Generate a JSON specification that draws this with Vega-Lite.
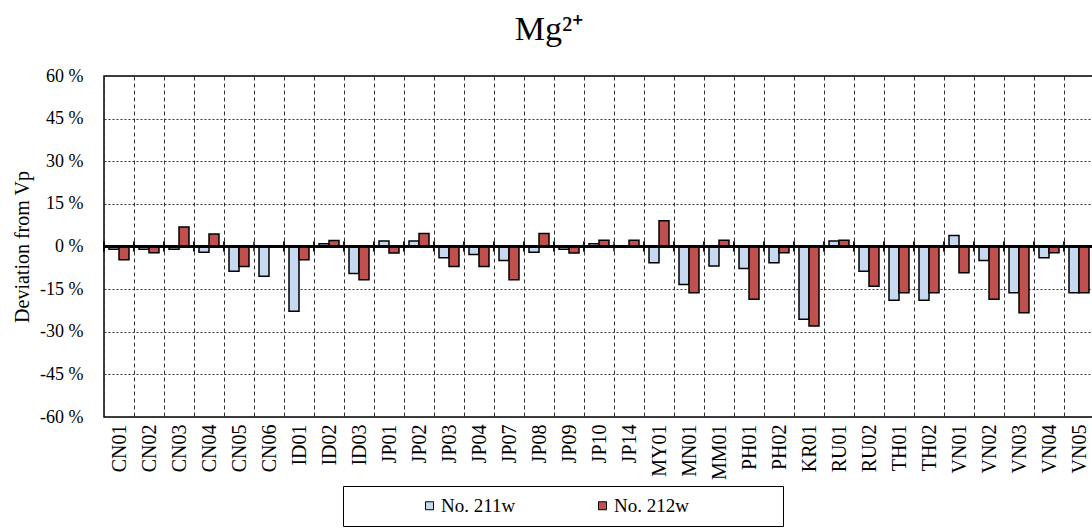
{
  "$schema": "https://vega.github.io/schema/vega-lite/v6.json",
  "autosize": {"type": "none"},
  "padding": {"left": 104, "top": 76, "right": 0, "bottom": 112},
  "width": 990,
  "height": 341,
  "title": {"text": "Mg²⁺", "fontSize": 34, "fontWeight": "normal", "font": "Liberation Serif", "color": "black", "offset": 20, "anchor": "middle", "dx": -50},
  "config": {
    "font": "Liberation Serif",
    "view": {"stroke": "black", "strokeWidth": 1.5},
    "axis": {"labelColor": "black", "titleColor": "black", "labelFont": "Liberation Serif", "titleFont": "Liberation Serif"}
  },
  "data": {"values": [
    {"site": "CN01", "sample": "No. 211w", "value": -1.0}, {"site": "CN01", "sample": "No. 212w", "value": -4.7},
    {"site": "CN02", "sample": "No. 211w", "value": -1.0}, {"site": "CN02", "sample": "No. 212w", "value": -2.2},
    {"site": "CN03", "sample": "No. 211w", "value": -1.0}, {"site": "CN03", "sample": "No. 212w", "value": 6.9},
    {"site": "CN04", "sample": "No. 211w", "value": -2.0}, {"site": "CN04", "sample": "No. 212w", "value": 4.4},
    {"site": "CN05", "sample": "No. 211w", "value": -8.7}, {"site": "CN05", "sample": "No. 212w", "value": -7.0},
    {"site": "CN06", "sample": "No. 211w", "value": -10.5},
    {"site": "ID01", "sample": "No. 211w", "value": -22.8}, {"site": "ID01", "sample": "No. 212w", "value": -4.7},
    {"site": "ID02", "sample": "No. 211w", "value": 1.0}, {"site": "ID02", "sample": "No. 212w", "value": 2.1},
    {"site": "ID03", "sample": "No. 211w", "value": -9.5}, {"site": "ID03", "sample": "No. 212w", "value": -11.7},
    {"site": "JP01", "sample": "No. 211w", "value": 1.9}, {"site": "JP01", "sample": "No. 212w", "value": -2.3},
    {"site": "JP02", "sample": "No. 211w", "value": 1.9}, {"site": "JP02", "sample": "No. 212w", "value": 4.6},
    {"site": "JP03", "sample": "No. 211w", "value": -4.0}, {"site": "JP03", "sample": "No. 212w", "value": -7.0},
    {"site": "JP04", "sample": "No. 211w", "value": -2.8}, {"site": "JP04", "sample": "No. 212w", "value": -7.0},
    {"site": "JP07", "sample": "No. 211w", "value": -4.9}, {"site": "JP07", "sample": "No. 212w", "value": -11.7},
    {"site": "JP08", "sample": "No. 211w", "value": -2.0}, {"site": "JP08", "sample": "No. 212w", "value": 4.6},
    {"site": "JP09", "sample": "No. 211w", "value": -1.0}, {"site": "JP09", "sample": "No. 212w", "value": -2.3},
    {"site": "JP10", "sample": "No. 211w", "value": 1.0}, {"site": "JP10", "sample": "No. 212w", "value": 2.2},
    {"site": "JP14", "sample": "No. 212w", "value": 2.2},
    {"site": "MY01", "sample": "No. 211w", "value": -5.7}, {"site": "MY01", "sample": "No. 212w", "value": 9.1},
    {"site": "MN01", "sample": "No. 211w", "value": -13.4}, {"site": "MN01", "sample": "No. 212w", "value": -16.3},
    {"site": "MM01", "sample": "No. 211w", "value": -6.9}, {"site": "MM01", "sample": "No. 212w", "value": 2.2},
    {"site": "PH01", "sample": "No. 211w", "value": -7.7}, {"site": "PH01", "sample": "No. 212w", "value": -18.6},
    {"site": "PH02", "sample": "No. 211w", "value": -5.7}, {"site": "PH02", "sample": "No. 212w", "value": -2.2},
    {"site": "KR01", "sample": "No. 211w", "value": -25.6}, {"site": "KR01", "sample": "No. 212w", "value": -28.0},
    {"site": "RU01", "sample": "No. 211w", "value": 1.9}, {"site": "RU01", "sample": "No. 212w", "value": 2.2},
    {"site": "RU02", "sample": "No. 211w", "value": -8.7}, {"site": "RU02", "sample": "No. 212w", "value": -14.0},
    {"site": "TH01", "sample": "No. 211w", "value": -18.9}, {"site": "TH01", "sample": "No. 212w", "value": -16.3},
    {"site": "TH02", "sample": "No. 211w", "value": -18.9}, {"site": "TH02", "sample": "No. 212w", "value": -16.3},
    {"site": "VN01", "sample": "No. 211w", "value": 3.9}, {"site": "VN01", "sample": "No. 212w", "value": -9.2},
    {"site": "VN02", "sample": "No. 211w", "value": -4.9}, {"site": "VN02", "sample": "No. 212w", "value": -18.6},
    {"site": "VN03", "sample": "No. 211w", "value": -16.3}, {"site": "VN03", "sample": "No. 212w", "value": -23.3},
    {"site": "VN04", "sample": "No. 211w", "value": -4.0}, {"site": "VN04", "sample": "No. 212w", "value": -2.2},
    {"site": "VN05", "sample": "No. 211w", "value": -16.3}, {"site": "VN05", "sample": "No. 212w", "value": -16.3}
  ]},
  "layer": [
    {
      "mark": {"type": "bar", "stroke": "black", "strokeWidth": 1.5},
      "encoding": {
        "x": {
          "field": "site", "type": "nominal", "sort": ["CN01","CN02","CN03","CN04","CN05","CN06","ID01","ID02","ID03","JP01","JP02","JP03","JP04","JP07","JP08","JP09","JP10","JP14","MY01","MN01","MM01","PH01","PH02","KR01","RU01","RU02","TH01","TH02","VN01","VN02","VN03","VN04","VN05"],
          "scale": {"paddingInner": 0, "paddingOuter": 0},
          "axis": {"title": null, "labelAngle": -90, "labelFontSize": 20, "labelPadding": 7, "ticks": false, "domain": false, "tickBand": "extent", "grid": true, "gridColor": "#333", "gridDash": [4, 3], "gridWidth": 1}
        },
        "xOffset": {"field": "sample", "type": "nominal", "scale": {"paddingInner": 0, "paddingOuter": 0.5}},
        "y": {
          "field": "value", "type": "quantitative",
          "scale": {"domain": [-60, 60], "nice": false},
          "axis": {"title": "Deviation from Vp", "titleFontSize": 20, "titleFontWeight": "normal", "titlePadding": 7, "labelFontSize": 18, "labelPadding": 21, "ticks": false, "domain": false, "values": [-60, -45, -30, -15, 0, 15, 30, 45, 60], "labelExpr": "datum.value + ' %'", "grid": true, "gridColor": "#333", "gridDash": [2, 2], "gridWidth": 1}
        },
        "color": {
          "field": "sample", "type": "nominal",
          "scale": {"domain": ["No. 211w", "No. 212w"], "range": ["#C6D9F1", "#C0504D"]},
          "legend": {"title": null, "orient": "none", "legendX": 239, "legendY": 410, "direction": "horizontal", "strokeColor": "black", "padding": 10, "symbolType": "square", "symbolSize": 64, "symbolStrokeColor": "black", "symbolStrokeWidth": 1, "symbolOffset": 67, "columnPadding": 10, "labelFontSize": 19, "labelFont": "Liberation Serif", "labelColor": "black", "labelOffset": 2, "labelExpr": "datum.label == 'No. 212w' ? datum.label + '\u2800\u2800\u2800\u2800\u2800\u2800' : datum.label"}
        }
      }
    },
    {
      "mark": {"type": "rule", "color": "black", "strokeWidth": 2},
      "encoding": {"y": {"datum": 0}}
    },
    {
      "mark": {"type": "tick", "orient": "vertical", "color": "black", "size": 10, "thickness": 2},
      "encoding": {
        "x": {"field": "site", "type": "nominal", "bandPosition": 0, "sort": ["CN01","CN02","CN03","CN04","CN05","CN06","ID01","ID02","ID03","JP01","JP02","JP03","JP04","JP07","JP08","JP09","JP10","JP14","MY01","MN01","MM01","PH01","PH02","KR01","RU01","RU02","TH01","TH02","VN01","VN02","VN03","VN04","VN05"],
          "scale": {"paddingInner": 0, "paddingOuter": 0},
          "axis": {"title": null, "labelAngle": -90, "labelFontSize": 20, "labelPadding": 7, "ticks": false, "domain": false, "tickBand": "extent", "grid": true, "gridColor": "#333", "gridDash": [4, 3], "gridWidth": 1}},
        "y": {"datum": 0}
      }
    }
  ]
}
